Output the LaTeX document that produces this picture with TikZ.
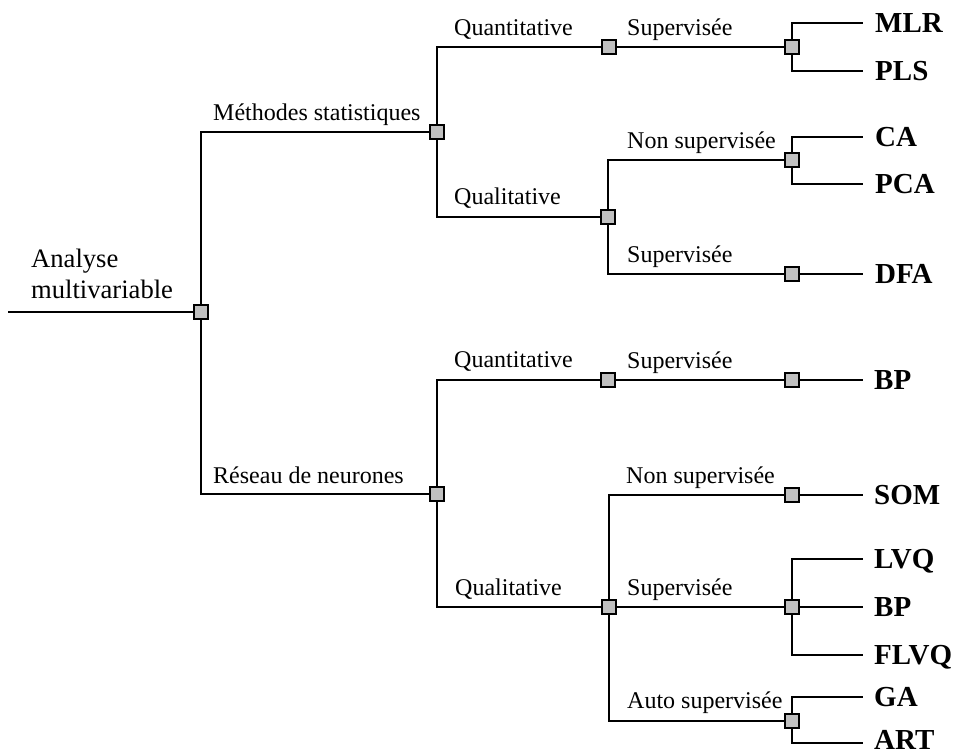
\documentclass[tikz,border=0pt]{standalone}
\usepackage{fontspec}
\setmainfont{Liberation Serif}
\definecolor{boxgray}{RGB}{192,192,192}
\begin{document}
\begin{tikzpicture}[x=1pt,y=-1pt,
  conn/.style={line width=1.9pt},
  jbox/.style={draw, line width=1.9pt, fill=boxgray, minimum size=14pt, inner sep=0pt},
  lab/.style={anchor=base west, inner sep=0pt, font=\fontsize{24}{28}\selectfont},
  leaf/.style={anchor=base west, inner sep=0pt, font=\fontsize{29}{33}\selectfont\bfseries},
  rootlab/.style={anchor=base west, inner sep=0pt, font=\fontsize{26.6}{31}\selectfont}]
\useasboundingbox (0,0) rectangle (958,755);
% junction boxes
\node[jbox] (root) at (201,312) {};
\node[jbox] (ms) at (437,132) {};
\node[jbox] (qt1) at (609,47) {};
\node[jbox] (s1) at (792,47) {};
\node[jbox] (ql1) at (608,217) {};
\node[jbox] (ns1) at (792,160) {};
\node[jbox] (sd1) at (792,274) {};
\node[jbox] (rn) at (437,494) {};
\node[jbox] (qt2) at (608,380) {};
\node[jbox] (s2) at (792,380) {};
\node[jbox] (ql2) at (609,607) {};
\node[jbox] (ns2) at (792,495) {};
\node[jbox] (sv2) at (792,607) {};
\node[jbox] (as2) at (792,721) {};
% line ends
\coordinate (in) at (8,312);
\coordinate (eMLR) at (863,23);
\coordinate (ePLS) at (863,71);
\coordinate (eCA) at (863,137);
\coordinate (ePCA) at (863,184);
\coordinate (eDFA) at (863,274);
\coordinate (eBP1) at (863,380);
\coordinate (eSOM) at (863,495);
\coordinate (eLVQ) at (863,559);
\coordinate (eBP2) at (863,607);
\coordinate (eFLVQ) at (863,655);
\coordinate (eGA) at (863,697);
\coordinate (eART) at (863,743);
% connectors
\draw[conn] (in) -- (root);
\draw[conn] (root) |- (ms);
\draw[conn] (root) |- (rn);
\draw[conn] (ms) |- (qt1);
\draw[conn] (ms) |- (ql1);
\draw[conn] (qt1) -- (s1);
\draw[conn] (s1) |- (eMLR);
\draw[conn] (s1) |- (ePLS);
\draw[conn] (ql1) |- (ns1);
\draw[conn] (ql1) |- (sd1);
\draw[conn] (ns1) |- (eCA);
\draw[conn] (ns1) |- (ePCA);
\draw[conn] (sd1) -- (eDFA);
\draw[conn] (rn) |- (qt2);
\draw[conn] (rn) |- (ql2);
\draw[conn] (qt2) -- (s2);
\draw[conn] (s2) -- (eBP1);
\draw[conn] (ql2) |- (ns2);
\draw[conn] (ql2) -- (sv2);
\draw[conn] (ql2) |- (as2);
\draw[conn] (ns2) -- (eSOM);
\draw[conn] (sv2) |- (eLVQ);
\draw[conn] (sv2) -- (eBP2);
\draw[conn] (sv2) |- (eFLVQ);
\draw[conn] (as2) |- (eGA);
\draw[conn] (as2) |- (eART);
% labels
\node[rootlab] (tA) at (31,267) {Analyse};
\node[rootlab] (tM) at (31,298) {multivariable};
\node[lab] (tms) at (213,120) {Méthodes statistiques};
\node[lab] (trn) at (213,483) {Réseau de neurones};
\node[lab] (tqt1) at (454,35) {Quantitative};
\node[lab] (tql1) at (454,204) {Qualitative};
\node[lab] (tqt2) at (454,367) {Quantitative};
\node[lab] (tql2) at (455,595) {Qualitative};
\node[lab] (ts1) at (627,35) {Supervisée};
\node[lab] (tns1) at (627,148) {Non supervisée};
\node[lab] (tsd1) at (627,262) {Supervisée};
\node[lab] (ts2) at (627,368) {Supervisée};
\node[lab] (tns2) at (626,483) {Non supervisée};
\node[lab] (tsv2) at (627,595) {Supervisée};
\node[lab] (tas2) at (627,708) {Auto supervisée};
% leaves
\node[leaf] (lMLR) at (875,32.6) {MLR};
\node[leaf] (lPLS) at (875,80.6) {PLS};
\node[leaf] (lCA) at (875,146.6) {CA};
\node[leaf] (lPCA) at (875,193.6) {PCA};
\node[leaf] (lDFA) at (875,283.6) {DFA};
\node[leaf] (lBP1) at (874,389.6) {BP};
\node[leaf] (lSOM) at (874,504.6) {SOM};
\node[leaf] (lLVQ) at (874,568.6) {LVQ};
\node[leaf] (lBP2) at (874,616.6) {BP};
\node[leaf] (lFLVQ) at (874,664.6) {FLVQ};
\node[leaf] (lGA) at (874,706.6) {GA};
\node[leaf] (lART) at (874,749) {ART};
\end{tikzpicture}
\end{document}
